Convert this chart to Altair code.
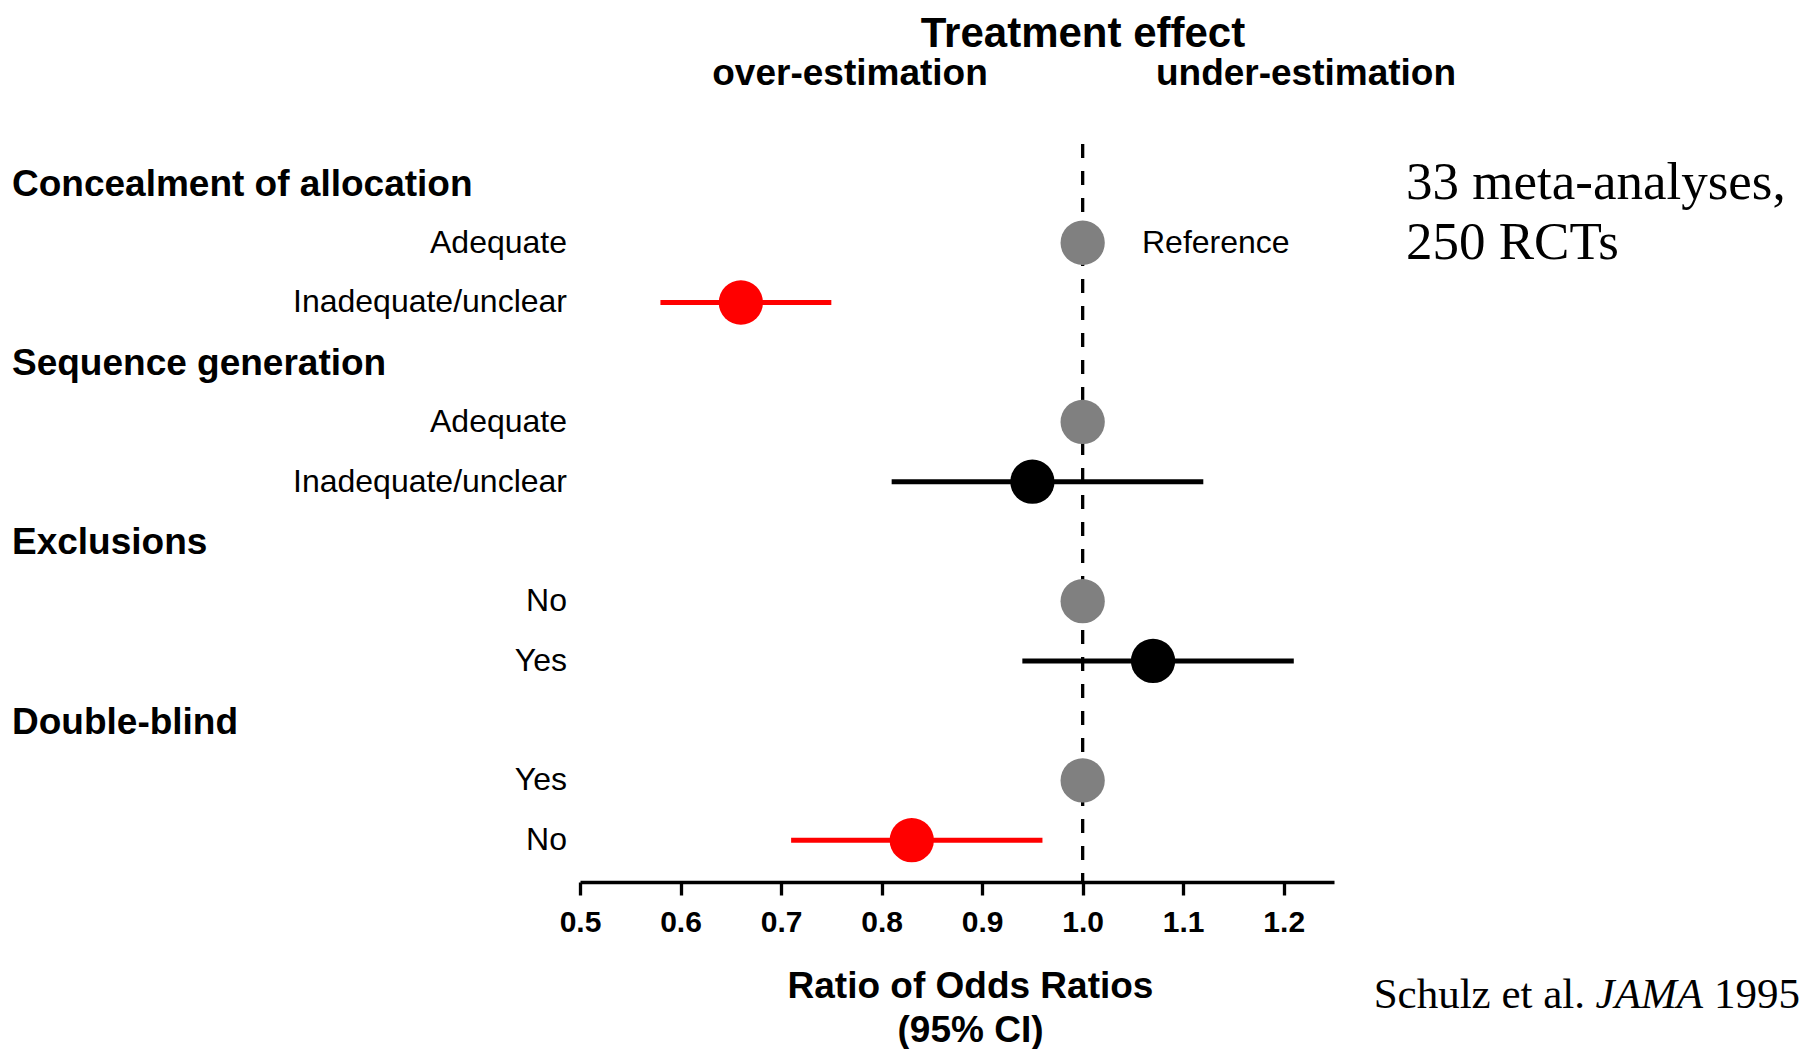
import altair as alt
import pandas as pd

# ---- data ----
row_labels = ["Concealment of allocation", "Adequate", "Inadequate/unclear",
              "Sequence generation", "Adequate", "Inadequate/unclear",
              "Exclusions", "No", "Yes",
              "Double-blind", "Yes", "No"]
is_header = [True, False, False, True, False, False, True, False, False, True, False, False]
estimate = [None, 1.0, 0.66, None, 1.0, 0.95, None, 1.0, 1.07, None, 1.0, 0.83]
ci_low = [None, None, 0.58, None, None, 0.81, None, None, 0.94, None, None, 0.71]
ci_high = [None, None, 0.75, None, None, 1.12, None, None, 1.21, None, None, 0.96]
point_color = [None, "#808080", "#ff0000", None, "#808080", "#000000",
               None, "#808080", "#000000", None, "#808080", "#ff0000"]
x_ticks = [0.5, 0.6, 0.7, 0.8, 0.9, 1.0, 1.1, 1.2]
x_domain = [0.5, 1.25]
ref_value = [1.0]

SANS = "Liberation Sans, Arial, Helvetica, sans-serif"
SERIF = "Liberation Serif, Times New Roman, serif"
W, H = 754, 738

rows = list(range(len(row_labels)))
df = pd.DataFrame({"row": rows, "label": row_labels, "header": is_header,
                   "est": estimate, "lo": ci_low, "hi": ci_high, "color": point_color})
pts = df.dropna(subset=["est"])
cis = df.dropna(subset=["lo"])
heads = df[df["header"]]
subs = df[~df["header"]]

xscale = alt.Scale(domain=x_domain, nice=False, zero=False)
yscale = alt.Scale(domain=[-0.653, 11.70], reverse=True, nice=False, zero=False)
xaxis = alt.Axis(values=x_ticks, format=".1f", grid=False,
                 domainColor="black", domainWidth=3.3, tickColor="black", tickWidth=3.3,
                 tickSize=13, labelFont=SANS, labelFontSize=30, labelFontWeight="bold",
                 labelColor="black", labelPadding=12, labelFlush=False, labelOverlap=False,
                 title=["Ratio of Odds Ratios", "(95% CI)"], titleFont=SANS, titleFontSize=37,
                 titleFontWeight="bold", titleColor="black", titleBaseline="top",
                 titleX=390, titleY=86, titleAlign="center", titleLineHeight=44)


def X(field):
    return alt.X(field, type="quantitative", scale=xscale, axis=xaxis)


Y = alt.Y("row:Q", scale=yscale, axis=None)

ref_df = pd.DataFrame({"x": ref_value})
dashed = alt.Chart(ref_df).mark_rule(color="black", strokeWidth=3.3, strokeDash=[14, 13]).encode(
    x=X("x"), y=alt.value(0), y2=alt.value(H))

ci_layer = alt.Chart(cis).mark_rule(strokeWidth=5).encode(
    x=X("lo"), x2="hi:Q", y=Y, color=alt.Color("color:N", scale=None))

pt_layer = alt.Chart(pts).mark_point(filled=True, shape="circle", size=1960, opacity=1).encode(
    x=X("est"), y=Y, color=alt.Color("color:N", scale=None))

head_layer = alt.Chart(heads).mark_text(align="left", baseline="middle", font=SANS, dy=2,
                                        fontSize=37, fontWeight="bold", color="black").encode(
    x=alt.value(-568), y=Y, text="label:N")

sub_layer = alt.Chart(subs).mark_text(align="right", baseline="middle", font=SANS,
                                      fontSize=32, color="black").encode(
    x=alt.value(-13), y=Y, text="label:N")

ref_text = alt.Chart(pd.DataFrame({"t": ["Reference"], "row": [1]})).mark_text(
    align="left", baseline="middle", font=SANS, fontSize=32, color="black").encode(
    x=alt.value(562), y=Y, text="t:N")


def txt(s, x, y, align="center", size=37, weight="bold", font=SANS, style="normal"):
    return alt.Chart(pd.DataFrame({"t": [s]})).mark_text(
        align=align, baseline="middle", font=font, fontSize=size, fontWeight=weight,
        fontStyle=style, color="black").encode(x=alt.value(x), y=alt.value(y), text="t:N")


title1 = txt("Treatment effect", 503, -110, size=42)
over = txt("over-estimation", 270, -70)
under = txt("under-estimation", 726, -70)

meta1 = alt.Chart(pd.DataFrame({"t": ["33 meta-analyses,", "250 RCTs"], "row": [0, 1]})).mark_text(
    align="left", baseline="middle", font=SERIF, fontSize=53, color="black").encode(
    x=alt.value(826), y=Y, text="t:N")

cite1 = txt("Schulz et al.", 1005, 851, align="right", size=43, weight="normal", font=SERIF)
cite2 = txt("JAMA", 1123, 851, align="right", size=43, weight="normal", font=SERIF, style="italic")
cite3 = txt("1995", 1220, 851, align="right", size=43, weight="normal", font=SERIF)

chart = alt.layer(dashed, ci_layer, pt_layer, head_layer, sub_layer, ref_text,
                  title1, over, under, meta1, cite1, cite2, cite3).properties(
    width=W, height=H,
    autosize=alt.AutoSizeParams(type="none"),
    padding={"left": 572, "top": 136, "right": 465, "bottom": 167},
    background="white",
).configure_view(stroke=None)

chart.save("out.html", embed_options={"renderer": "svg", "actions": False})
